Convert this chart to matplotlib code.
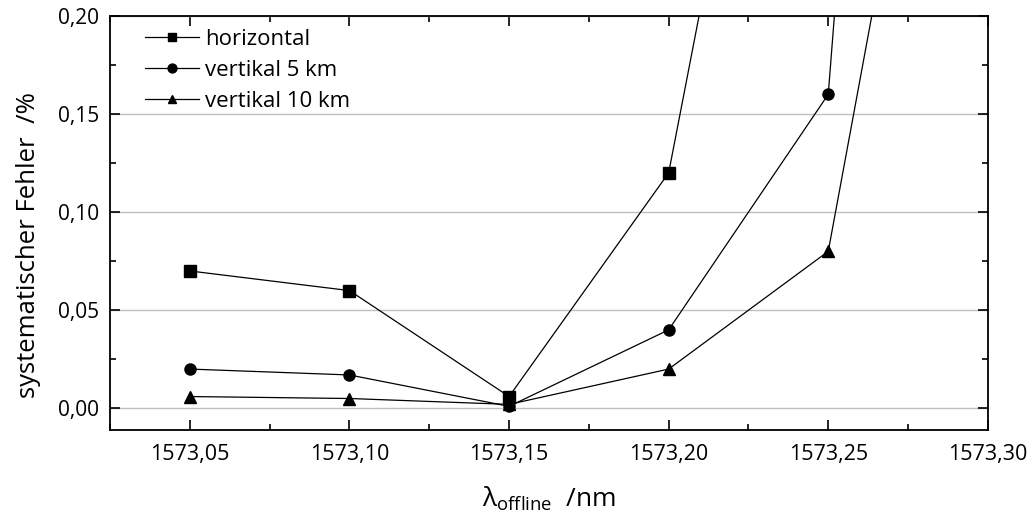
import matplotlib
matplotlib.use("Agg")
import matplotlib.pyplot as plt
from matplotlib.ticker import MultipleLocator, FuncFormatter

plt.rcParams['font.family'] = ['Open Sans', 'DejaVu Sans']
plt.rcParams['mathtext.fontset'] = 'custom'
plt.rcParams['mathtext.rm'] = 'Open Sans'

wl = [1573.05, 1573.10, 1573.15, 1573.20, 1573.25, 1573.30]
horizontal = [0.070, 0.060, 0.006, 0.120, 0.54, None]
vert5 = [0.020, 0.017, 0.001, 0.040, 0.160, 1.20]
vert10 = [0.006, 0.005, 0.002, 0.020, 0.080, 0.52]

def pairs(xs, ys):
    pts = [(x, y) for x, y in zip(xs, ys) if y is not None]
    return [p[0] for p in pts], [p[1] for p in pts]

fig = plt.figure(figsize=(10.29, 5.13), dpi=100)
ax = fig.add_axes([0.107, 0.162, 0.853, 0.807])

for ys, mk, lab in [(horizontal, 's', 'horizontal'),
                    (vert5, 'o', 'vertikal 5 km'),
                    (vert10, '^', 'vertikal 10 km')]:
    x, y = pairs(wl, ys)
    ax.plot(x, y, color='black', lw=0.9, marker=mk, ms=8, mfc='black',
            mec='black', label=lab)

ax.set_xlim(1573.025, 1573.30)
ax.set_ylim(-0.011, 0.20)
ax.xaxis.set_major_locator(MultipleLocator(0.05))
ax.xaxis.set_minor_locator(MultipleLocator(0.025))
ax.yaxis.set_major_locator(MultipleLocator(0.05))
ax.yaxis.set_minor_locator(MultipleLocator(0.025))
comma = FuncFormatter(lambda v, p: f"{v:.2f}".replace('.', ','))
ax.xaxis.set_major_formatter(comma)
ax.yaxis.set_major_formatter(comma)
ax.tick_params(which='both', direction='in', top=True, right=True, width=1.2)
ax.tick_params(which='major', length=7, labelsize=15, pad=8)
ax.tick_params(axis='x', which='major', labelsize=15.5, pad=10)
ax.tick_params(which='minor', length=4)
ax.grid(axis='y', which='major', color='#c0c0c0', lw=1)
ax.set_axisbelow(True)
for s in ax.spines.values():
    s.set_linewidth(1.3)

ax.set_ylabel('systematischer Fehler  /%', fontsize=18.5)
ax.yaxis.set_label_coords(-0.079, 0.447)
ax.set_xlabel('λ$_{\\mathrm{offline}}$  /nm', fontsize=19, labelpad=14)

ax.legend(loc='upper left', frameon=False, fontsize=16, handlelength=2.4,
          handletextpad=0.3, labelspacing=0.45, borderaxespad=0.2,
          markerscale=0.8, bbox_to_anchor=(0.025, 1.0))

fig.savefig('out.png', dpi=100)
